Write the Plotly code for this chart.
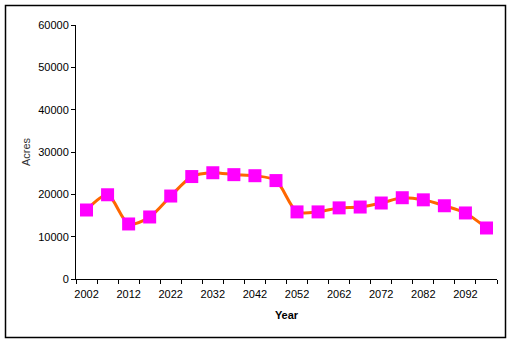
import plotly.graph_objects as go

years = list(range(2002, 2098, 5))
acres = [16300, 19900, 13000, 14650, 19600, 24200, 25100, 24650, 24400, 23250,
         15850, 15850, 16800, 17000, 17950, 19200, 18700, 17300, 15600, 12050]
tick_years = list(range(2002, 2093, 10))
y_ticks = list(range(0, 60001, 10000))

L, R, T, B = 76, 497, 25, 279
W, H = 514, 345
pw, ph = R - L, B - T

def px(x):
    return (x - L) / pw

def py(y):
    return (B - y) / ph

fig = go.Figure()
fig.add_trace(go.Scatter(
    x=years, y=acres, mode="lines+markers",
    line=dict(color="#FF6600", width=3, shape="spline", smoothing=0.8),
    marker=dict(symbol="square", size=13, color="#FF00FF", line=dict(width=0)),
    showlegend=False,
))

font = dict(family="Liberation Sans, Arial, sans-serif", size=11, color="black")

fig.update_layout(
    width=W, height=H,
    margin=dict(l=L, r=W - R, t=T, b=H - B),
    paper_bgcolor="white", plot_bgcolor="white",
    font=font,
    xaxis=dict(
        range=[1999.5, 2099.5], tickvals=tick_years,
        ticktext=[str(y) for y in tick_years],
        ticks="", showgrid=False, zeroline=False,
        showline=True, linecolor="black", linewidth=1,
        ticklabelstandoff=5,
        minor=dict(ticks="outside", tick0=1999.5, dtick=5, ticklen=4,
                   tickcolor="black", showgrid=False),
        title=dict(text="<b>Year</b>", font=font, standoff=12),
        fixedrange=True,
    ),
    yaxis=dict(
        range=[0, 60000], tickvals=y_ticks,
        ticktext=[str(v) for v in y_ticks],
        ticks="outside", ticklen=4, tickcolor="black",
        showgrid=False, zeroline=False,
        showline=True, linecolor="black", linewidth=1,
        title=dict(text="Acres", font=dict(family=font["family"], size=11, color="#333333"), standoff=5),
        fixedrange=True,
    ),
    shapes=[dict(
        type="rect", xref="paper", yref="paper",
        x0=px(5.5), x1=px(505.5), y0=py(337.5), y1=py(5.5),
        line=dict(color="black", width=1.5), fillcolor="rgba(0,0,0,0)",
        layer="below",
    )],
)

fig.write_html("out.html")
